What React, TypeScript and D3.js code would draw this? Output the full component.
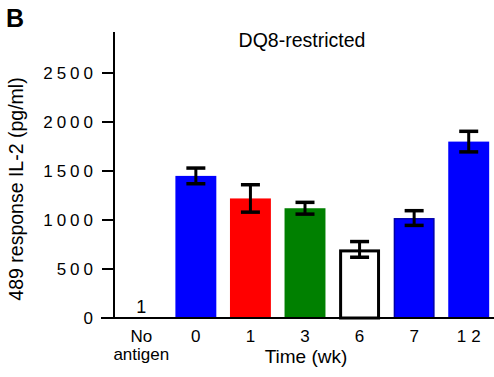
import React from "react";
import * as d3 from "d3";

const categories = ["No antigen", "0", "1", "3", "6", "7", "12"];
const values = [null, 1450, 1220, 1120, 700, 1020, 1800];
const errors = [null, 80, 140, 60, 80, 75, 105];
const fills = ["none", "#0000ff", "#ff0000", "#008000", "#ffffff", "#0000ff", "#0000ff"];
const strokes = ["none", "none", "none", "none", "#000", "#0000aa", "none"];
const yTicks = [0, 500, 1000, 1500, 2000, 2500];

export default function App() {
  const width = 494;
  const height = 377;
  const top = 32;

  const x = d3.scaleBand().domain(categories).range([114, 496]).paddingInner(0.25).paddingOuter(0.125);
  const y = d3.scaleLinear().domain([0, 2960]).range([318, 318 - 2960 * (49 / 500)]);
  const font = "Liberation Sans, Arial, sans-serif";
  const ls = 4;

  return (
    <svg width={width} height={height} style={{ position: "absolute", left: 0, top: 0 }} fontFamily={font}>
      <text x={6} y={27} fontSize={25} fontWeight="bold">B</text>
      <text x={302} y={47} fontSize={19.5} textAnchor="middle">DQ8-restricted</text>

      {categories.map((c, i) => {
        const v = values[i];
        const cx = (x(c) as number) + x.bandwidth() / 2;
        if (v === null) {
          return (
            <text key={c} x={cx} y={313} fontSize={18} textAnchor="middle">1</text>
          );
        }
        const e = errors[i] as number;
        const sw = strokes[i] === "none" ? 0 : strokes[i] === "#000" ? 3 : 1.5;
        return (
          <g key={c}>
            <rect
              x={(x(c) as number) + sw / 2}
              y={y(v) + sw / 2}
              width={x.bandwidth() - sw}
              height={y(0) - y(v) - sw / 2}
              fill={fills[i]}
              stroke={strokes[i]}
              strokeWidth={sw}
            />
            <line x1={cx} x2={cx} y1={y(v + e)} y2={y(v - e)} stroke="#000" strokeWidth={3} />
            <line x1={cx - 9.5} x2={cx + 9.5} y1={y(v + e)} y2={y(v + e)} stroke="#000" strokeWidth={3.5} />
            <line x1={cx - 9.5} x2={cx + 9.5} y1={y(v - e)} y2={y(v - e)} stroke="#000" strokeWidth={3.5} />
          </g>
        );
      })}

      {/* axes */}
      <line x1={114} x2={114} y1={top} y2={319} stroke="#000" strokeWidth={2} />
      <line x1={101} x2={494} y1={318} y2={318} stroke="#000" strokeWidth={2} />
      {yTicks.map((t) => (
        <g key={t}>
          <line x1={102} x2={114} y1={y(t)} y2={y(t)} stroke="#000" strokeWidth={2} />
          <text x={93 + ls} y={y(t) + 6} fontSize={17} textAnchor="end" letterSpacing={ls}>
            {String(t)}
          </text>
        </g>
      ))}
      {categories.map((c) => {
        const cx = (x(c) as number) + x.bandwidth() / 2;
        const parts = c === "No antigen" ? ["No", "antigen"] : [c];
        const spacing = c === "12" ? 5 : 0;
        return (
          <text key={c} x={cx + spacing / 2} y={342} fontSize={17} textAnchor="middle" letterSpacing={spacing}>
            {parts.map((p, j) => (
              <tspan key={j} x={cx + spacing / 2} dy={j === 0 ? 0 : 18}>{p}</tspan>
            ))}
          </text>
        )
      })}
      <text x={306} y={363} fontSize={19} textAnchor="middle">Time (wk)</text>
      <text
        transform={`translate(23, 189) rotate(-90)`}
        fontSize={19.5}
        textAnchor="middle"
      >
        489 response IL-2 (pg/ml)
      </text>
    </svg>
  );
}
